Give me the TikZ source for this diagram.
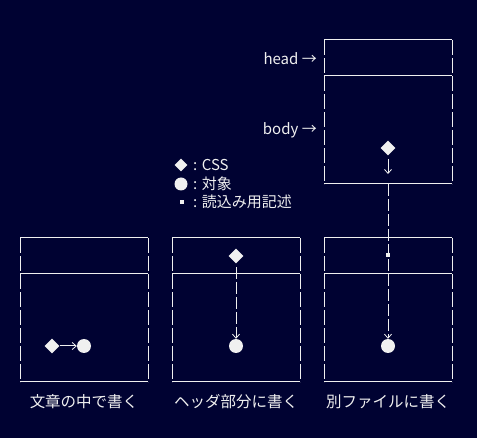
\documentclass[tikz,border=0pt]{standalone}
\usepackage{fontspec}
\setmainfont{Noto Sans CJK JP}
\usetikzlibrary{shapes.geometric,arrows.meta}
\definecolor{bg}{RGB}{0,2,50}
\definecolor{fg}{RGB}{240,240,240}
\tikzset{
  solidline/.style={draw=fg,line width=1pt},
  sideline/.style={draw=fg,line width=1pt,dash pattern=on 15pt off 3pt},
  conn/.style={draw=fg,line width=1pt,dash pattern=on 12pt off 3pt,-{Straight Barb[length=4pt,width=7pt,line width=0.8pt]}},
  sconn/.style={draw=fg,line width=1pt,-{Straight Barb[length=4pt,width=7pt,line width=0.8pt]}},
  css/.style={diamond,fill=fg,inner sep=0pt,minimum width=15pt,minimum height=15pt},
  obj/.style={circle,fill=fg,inner sep=0pt,minimum size=14pt},
  rd/.style={rectangle,fill=fg,inner sep=0pt,minimum size=3.5pt},
  lbl/.style={text=fg,font=\fontsize{15}{15}\selectfont,inner sep=0pt},
  captxt/.style={text=fg,font=\fontsize{15.5}{15.5}\selectfont,inner sep=0pt}
}
\begin{document}
\begin{tikzpicture}[x=1pt,y=-1pt]
\fill[bg] (0,0) rectangle (477,438);
\useasboundingbox (0,0) rectangle (477,438);
\foreach \x/\yt/\ym/\yb in {324/40/76/184,20/238/274/382,172/238/274/382,324/238/274/382}{
  \draw[solidline] (\x,\yt) -- (\x+128,\yt);
  \draw[solidline] (\x,\ym) -- (\x+128,\ym);
  \draw[solidline] (\x,\yb) -- (\x+128,\yb);
  \draw[sideline] (\x,\yt) -- (\x,\yb);
  \draw[sideline] (\x+128,\yt) -- (\x+128,\yb);
}
\coordinate (topbot) at (388,184);
% head / body labels
\node[lbl,anchor=east] (head) at (317,59) {head →};
\node[lbl,anchor=east] (body) at (317,130) {body →};
% top box
\node[css] (tcss) at (388,148) {};
\coordinate (tstart) at (388,159);
\coordinate (tarr) at (388,174);
\draw[sconn] (tstart) -- (tarr);
% legend
\node[css,minimum width=13pt,minimum height=13pt] (lcss) at (181,165) {};
\node[lbl,anchor=west] (lt1) at (193,165) {: CSS};
\node[obj,minimum size=13pt] (lobj) at (181,184) {};
\node[lbl,anchor=west] (lt2) at (193,184) {: 対象};
\node[rd] (lrd) at (182,202) {};
\node[lbl,anchor=west] (lt3) at (193,202) {: 読込み用記述};
% box 1
\node[css] (c1) at (52,346) {};
\node[obj] (o1) at (84,346) {};
\draw[sconn] (c1.east) -- (o1.west);
% box 2
\node[css] (c2) at (236,256) {};
\coordinate (c2s) at (236,267);
\node[obj] (o2) at (236,346) {};
\draw[conn] (c2s) -- (o2.north);
% box 3
\node[rd] (r3) at (388,255) {};
\node[obj] (o3) at (388,346) {};
\draw[conn] (topbot) -- (o3.north);
% captions
\node[captxt] (cap1) at (84,402) {文章の中で書く};
\node[captxt] (cap2) at (236,402) {ヘッダ部分に書く};
\node[captxt] (cap3) at (388,402) {別ファイルに書く};
\end{tikzpicture}
\end{document}
